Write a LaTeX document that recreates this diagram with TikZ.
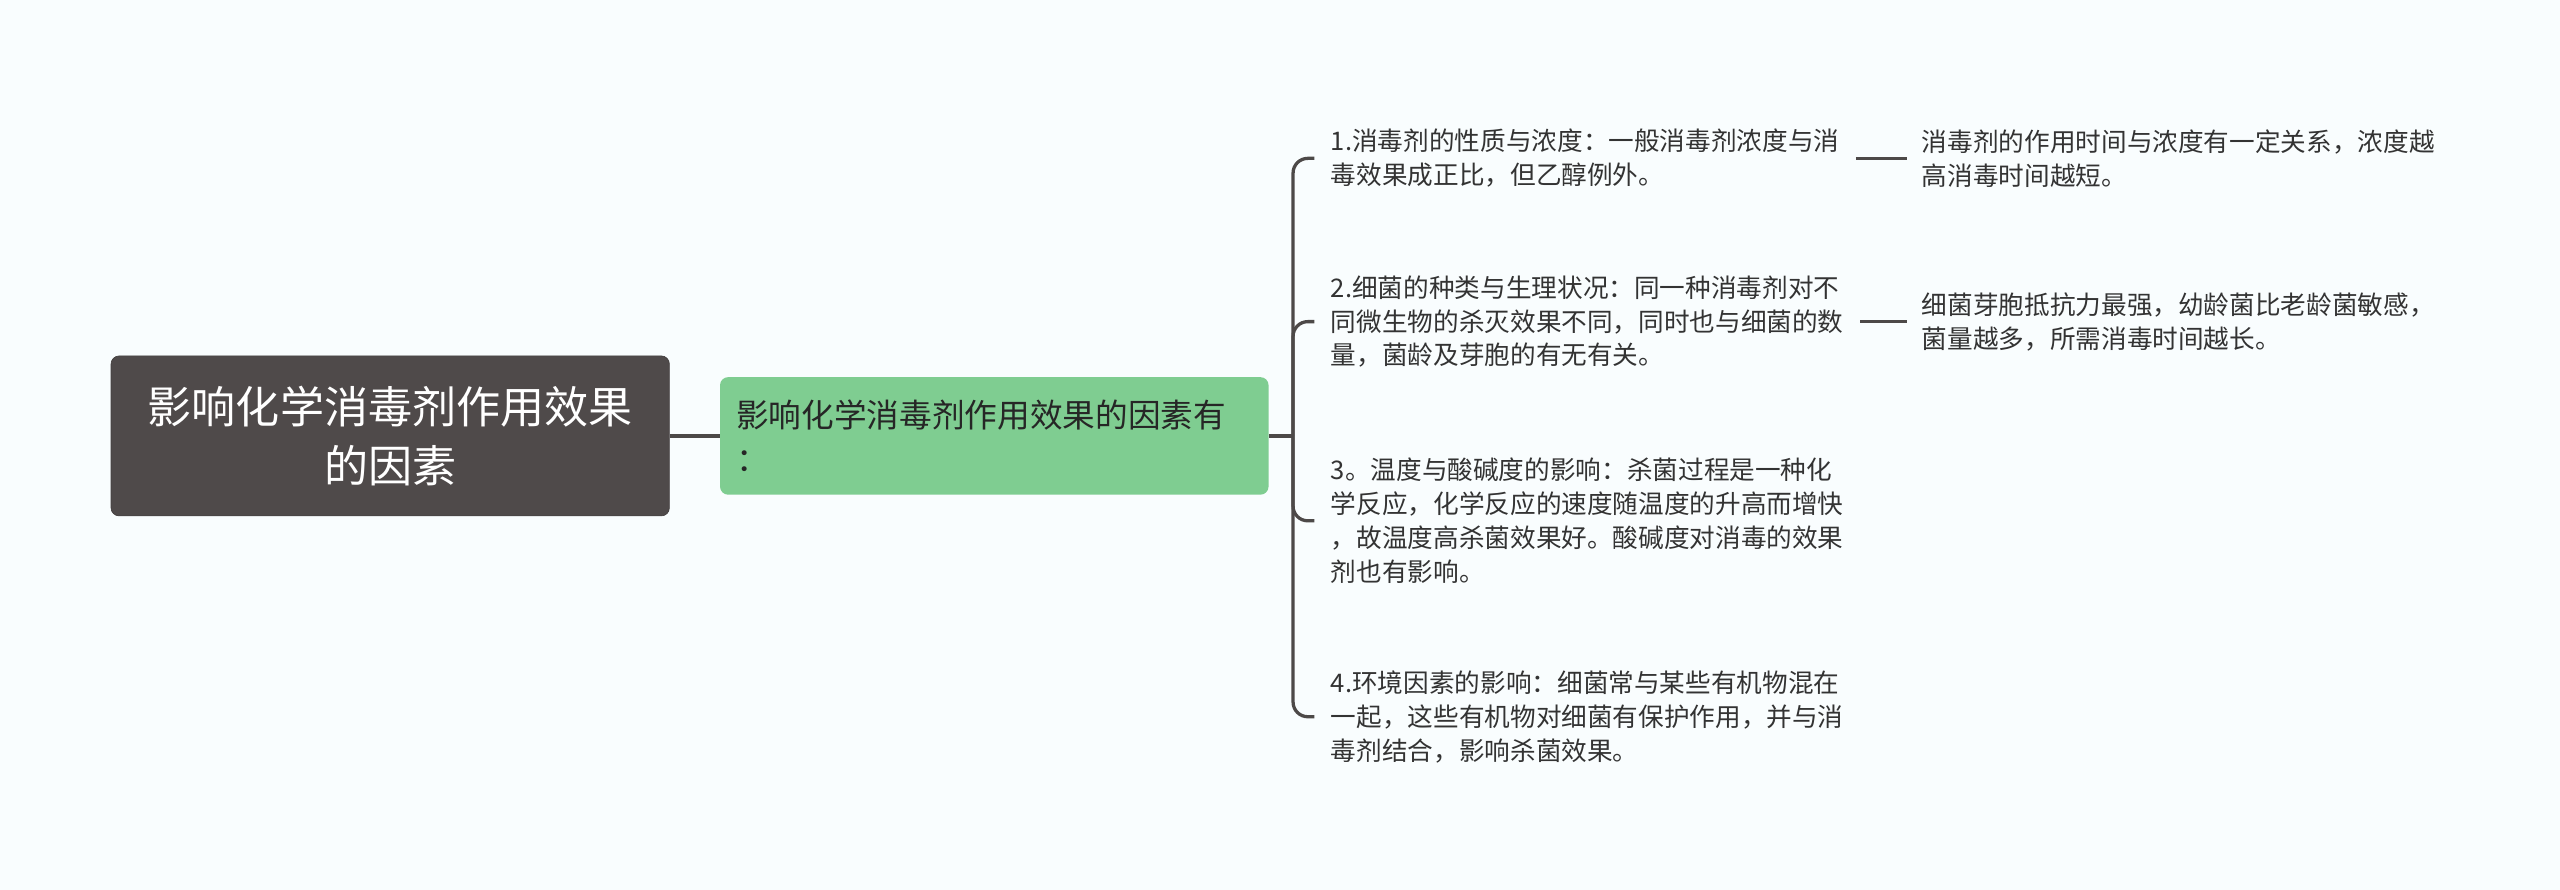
\documentclass[tikz,border=0pt]{standalone}
\usepackage{fontspec}
\setmainfont{Noto Sans CJK SC}
\usepackage{tikz}
\usetikzlibrary{positioning}
\usetikzlibrary{calc}
\definecolor{rootgray}{RGB}{79,74,74}
\definecolor{leafgreen}{RGB}{127,205,145}
\definecolor{linegray}{RGB}{77,73,72}
\definecolor{textgray}{RGB}{51,51,51}
\definecolor{paper}{RGB}{249,253,254}
\tikzset{basic box/.style={rounded corners=5pt,inner sep=0pt}}
\tikzset{edge/.style={draw,
                      color=linegray,
                      line width=2pt,
                      rounded corners=9pt}}

\begin{document}
\begin{tikzpicture}
      [
      x=1pt,y=-1pt,
      root box/.style={basic box,
      fill=rootgray,draw=rootgray!85!black,text=white,align=center,
      minimum width=342pt,minimum height=98pt,
      font=\fontsize{27}{36}\selectfont},
      mid box/.style={basic box,
      fill=leafgreen,text=black!85,align=left,inner xsep=10pt,
      text width=316pt,minimum height=72pt,
      font=\fontsize{20}{27}\selectfont},
      item/.style={anchor=west,align=left,
      inner xsep=10pt,inner ysep=0pt,text=textgray,
      font=\fontsize{15.7}{20.7}\selectfont},
      ]

      \useasboundingbox (0,0) rectangle (1568,545);
      \fill [paper] (0,0) rectangle (1568,545);

      % vertices
      \node [root box] (root) at (239,267) {影响化学消毒剂作用效果\\的因素};
      \node [mid box] (mid) at (609,267) {影响化学消毒剂作用效果的因素有\\：};

      \node [item] (I1) at (805,97) {1.消毒剂的性质与浓度：一般消毒剂浓度与消\\毒效果成正比，但乙醇例外。};
      \node [item] (I2) at (805,197) {2.细菌的种类与生理状况：同一种消毒剂对不\\同微生物的杀灭效果不同，同时也与细菌的数\\量，菌龄及芽胞的有无有关。};
      \node [item] (I3) at (805,319) {3。温度与酸碱度的影响：杀菌过程是一种化\\学反应，化学反应的速度随温度的升高而增快\\，故温度高杀菌效果好。酸碱度对消毒的效果\\剂也有影响。};
      \node [item] (I4) at (805,439) {4.环境因素的影响：细菌常与某些有机物混在\\一起，这些有机物对细菌有保护作用，并与消\\毒剂结合，影响杀菌效果。};

      \node [item,inner xsep=9pt] (R1) at (1168,97) {消毒剂的作用时间与浓度有一定关系，浓度越\\高消毒时间越短。};
      \node [item,inner xsep=9pt] (R2) at (1168,197) {细菌芽胞抵抗力最强，幼龄菌比老龄菌敏感，\\菌量越多，所需消毒时间越长。};

      % edges
      \coordinate (J) at (792,267);
      \path [edge] (root.east) -- (mid.west);
      \path [edge] (mid.east) -- (J);
      \path [edge] (I1.west) -| (J) |- (I4.west);
      \path [edge] (J) |- (I2.west);
      \path [edge] (J) |- (I3.west);

      \path [edge] (I1.east) -- (R1.west);
      \path [edge] (I2.east) -- (R2.west);

    \end{tikzpicture}
\end{document}
